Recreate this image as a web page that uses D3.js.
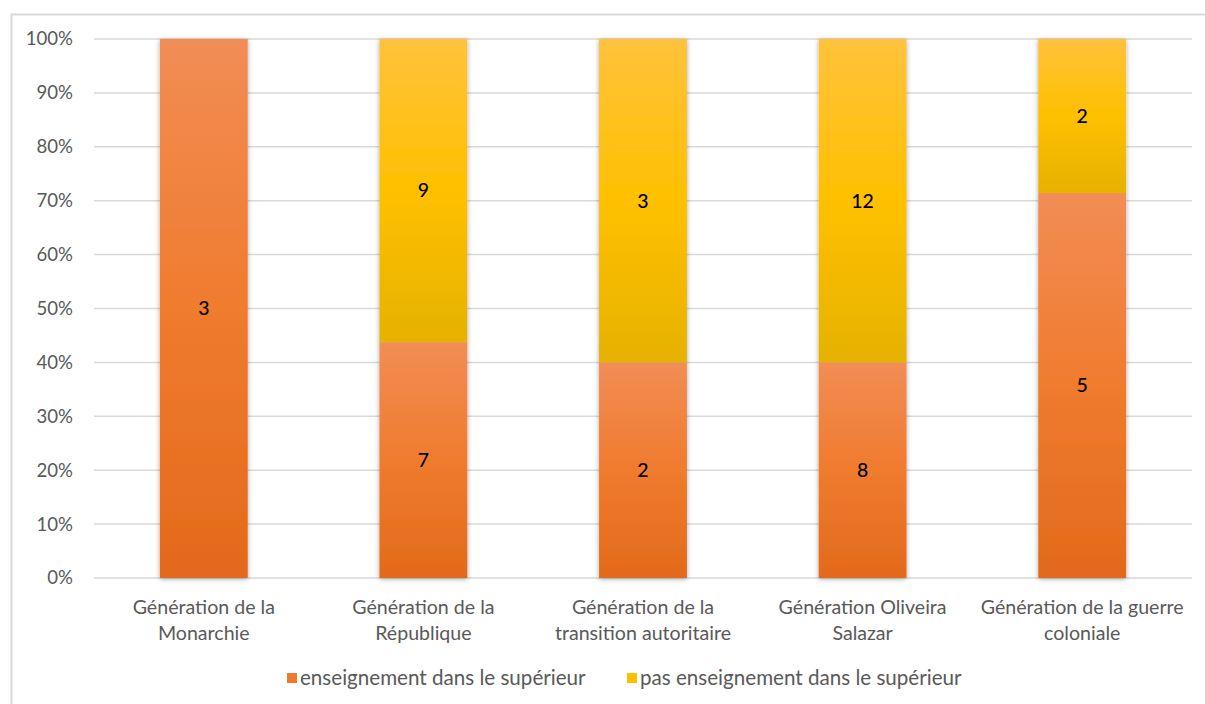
<!DOCTYPE html>
<html><head><meta charset="utf-8">
<script src="https://cdn.jsdelivr.net/npm/d3@7"></script>
<style>
body{margin:0;background:#fff;}
svg{display:block;font-family:Lato,"Open Sans",sans-serif;}
</style></head>
<body>
<svg id="c" width="1205" height="704"></svg>
<script>
const categories = [["Génération de la","Monarchie"],["Génération de la","République"],["Génération de la","transition autoritaire"],["Génération Oliveira","Salazar"],["Génération de la guerre","coloniale"]];
const enseignement = [3,7,2,8,5];
const pasEnseignement = [0,9,3,12,2];
const seriesNames = ["enseignement dans le supérieur","pas enseignement dans le supérieur"];
const yTicks = [0,0.1,0.2,0.3,0.4,0.5,0.6,0.7,0.8,0.9,1];

const svg = d3.select("#c");
const defs = svg.append("defs");
function grad(id, stops){
  const g = defs.append("linearGradient").attr("id",id).attr("x1",0).attr("y1",0).attr("x2",0).attr("y2",1);
  stops.forEach(s=>g.append("stop").attr("offset",s[0]).attr("stop-color",s[1]));
}
grad("gO",[[0,"#F18D55"],[0.5,"#F07B2E"],[1,"#E26A1B"]]);
grad("gY",[[0,"#FFC23C"],[0.5,"#FFC000"],[1,"#E5B200"]]);
const f = defs.append("filter").attr("id","sh").attr("x","-20%").attr("y","-5%").attr("width","140%").attr("height","110%");
f.append("feDropShadow").attr("dx",0).attr("dy",1).attr("stdDeviation",2.5).attr("flood-color","#000").attr("flood-opacity",0.35);

svg.append("rect").attr("x",11.5).attr("y",14.5).attr("width",1230).attr("height",720)
  .attr("fill","#fff").attr("stroke","#d9d9d9").attr("stroke-width",2);

const x = d3.scaleBand().domain(d3.range(categories.length)).range([94,1192]).paddingInner(0.6).paddingOuter(0.3);
const y = d3.scaleLinear().domain([0,1]).range([578,39]);

svg.append("g").selectAll("line").data(yTicks).join("line")
  .attr("x1",94).attr("x2",1192).attr("y1",d=>y(d)).attr("y2",d=>y(d))
  .attr("stroke","#d9d9d9").attr("stroke-width",1.5);

const yAxis = svg.append("g").attr("transform","translate(94,0)")
  .call(d3.axisLeft(y).tickValues(yTicks).tickFormat(d3.format(".0%")).tickSize(0).tickPadding(21));
yAxis.select(".domain").remove();
yAxis.selectAll("text").attr("font-size",18.6).attr("fill","#595959").attr("font-family","Lato,'Open Sans',sans-serif");

const data = categories.map((c,i)=>{
  const t = enseignement[i]+pasEnseignement[i];
  return {i, a:enseignement[i], b:pasEnseignement[i], pa:enseignement[i]/t, pb:pasEnseignement[i]/t};
});

const bars = svg.append("g");
data.forEach(d=>{
  const g = bars.append("g").attr("filter","url(#sh)");
  if(d.a>0) g.append("rect").attr("x",x(d.i)).attr("width",x.bandwidth())
    .attr("y",y(d.pa)).attr("height",y(0)-y(d.pa)).attr("fill","url(#gO)");
  if(d.b>0) g.append("rect").attr("x",x(d.i)).attr("width",x.bandwidth())
    .attr("y",y(1)).attr("height",y(d.pa)-y(1)).attr("fill","url(#gY)");
});
const lab = svg.append("g").attr("font-size",19.5).attr("font-weight",500).attr("fill","#000").attr("text-anchor","middle");
data.forEach(d=>{
  const cx = x(d.i)+x.bandwidth()/2;
  if(d.a>0) lab.append("text").attr("x",cx).attr("y",y(d.pa/2)).attr("dy","0.35em").text(d.a);
  if(d.b>0) lab.append("text").attr("x",cx).attr("y",y(d.pa+d.pb/2)).attr("dy","0.35em").text(d.b);
});

const xl = svg.append("g").attr("font-size",19.6).attr("fill","#595959").attr("text-anchor","middle");
categories.forEach((c,i)=>{
  const t = xl.append("text").attr("x",x(i)+x.bandwidth()/2).attr("y",614);
  c.forEach((s,k)=>t.append("tspan").attr("x",x(i)+x.bandwidth()/2).attr("dy",k?26:0).text(s));
});

const leg = svg.append("g");
const legItems = [{n:seriesNames[0],c:"#EE7A2C",x:287},{n:seriesNames[1],c:"#FFC000",x:627}];
legItems.forEach(l=>{
  leg.append("rect").attr("x",l.x).attr("y",673).attr("width",10).attr("height",10).attr("fill",l.c);
  leg.append("text").attr("x",l.x+13).attr("y",685).attr("font-size",20.6).attr("fill","#595959").text(l.n);
});
</script>
</body></html>
